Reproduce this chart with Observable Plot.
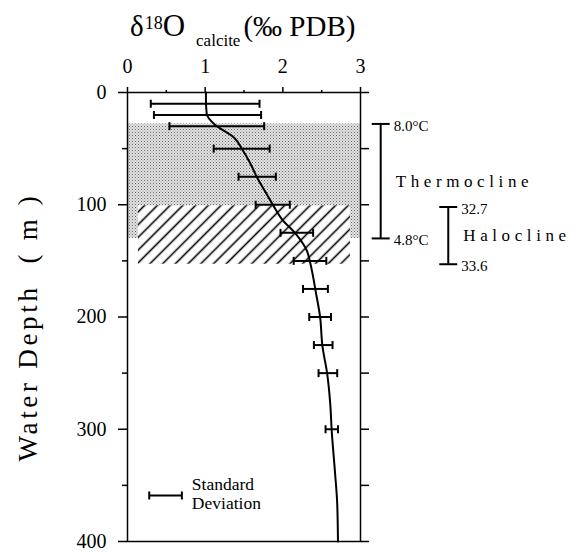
<!DOCTYPE html>
<html>
<head>
<meta charset="utf-8">
<script src="https://cdn.jsdelivr.net/npm/d3@7"></script>
<script src="https://cdn.jsdelivr.net/npm/@observablehq/plot@0.6"></script>
<style>
  html, body { margin: 0; padding: 0; background: #fff; }
  #chart svg { display: block; }
</style>
</head>
<body>
<div id="chart"></div>
<script>
// Mean δ18O of calcite (‰ PDB) with ±1 standard deviation, by water depth (m)
const sampleDepth = [10, 20, 30, 50, 75, 100, 125, 150, 175, 200, 225, 250, 300];
const meanD18O    = [1.00, 1.03, 1.15, 1.47, 1.67, 1.87, 2.18, 2.35, 2.42, 2.48, 2.52, 2.58, 2.63];
const stdDev      = [0.70, 0.69, 0.61, 0.36, 0.24, 0.22, 0.21, 0.21, 0.16, 0.14, 0.12, 0.12, 0.08];

// Smoothed equilibrium profile
const profileDepth = [0, 7, 19, 29, 40, 51, 63, 76, 89, 101, 113, 127, 141, 151, 168, 176, 200, 226, 250, 277, 302, 337, 366, 400];
const profileD18O  = [1.01, 1.01, 1.02, 1.13, 1.37, 1.48, 1.58, 1.67, 1.78, 1.88, 1.99, 2.18, 2.31, 2.35, 2.40, 2.42, 2.48, 2.51, 2.57, 2.61, 2.63, 2.67, 2.70, 2.71];

// Water-column layers
const zoneNames   = ["Thermocline", "Halocline"];
const zoneTop     = [28, 102];
const zoneBottom  = [130, 153];
const zoneTopLbl  = ["8.0°C", "32.7"];
const zoneBotLbl  = ["4.8°C", "33.6"];

// Axis ticks
const xTicks = [0, 1, 2, 3];
const xMinorTicks = [0.5, 1.5, 2.5];
const yTicks = [0, 100, 200, 300, 400];
const yMinorTicks = [50, 150, 250, 350];

// Legend sample bar
const legendText = "Standard\nDeviation";
const legendDepth = 359;
const legendSpan = [0.28, 0.70];

const bars = sampleDepth.map((depth, i) => ({depth, mean: meanD18O[i], sd: stdDev[i]}));
const profile = profileDepth.map((depth, i) => ({depth, value: profileD18O[i]}));
const zones = zoneNames.map((name, i) => ({
  name, top: zoneTop[i], bottom: zoneBottom[i], topLabel: zoneTopLbl[i], bottomLabel: zoneBotLbl[i]
}));

// Horizontal positions of the zone brackets, right of the frame (in δ18O units)
const zoneColumn = {Thermocline: 3.26, Halocline: 4.13};

// Short strokes used as bar caps
const vCap = {draw(ctx, size) { const r = Math.sqrt(size / Math.PI); ctx.moveTo(0, -r); ctx.lineTo(0, r); }};
const hCap = {draw(ctx, size) { const r = Math.sqrt(size / Math.PI); ctx.moveTo(-r, 0); ctx.lineTo(r, 0); }};

const barCaps = bars.flatMap(d => [{x: d.mean - d.sd, depth: d.depth}, {x: d.mean + d.sd, depth: d.depth}]);
const zoneCaps = zones.flatMap(d => [{x: zoneColumn[d.name], depth: d.top}, {x: zoneColumn[d.name], depth: d.bottom}]);
const legendRows = [{depth: legendDepth, x1: legendSpan[0], x2: legendSpan[1], text: legendText}];
const legendCaps = legendSpan.map(x => ({x, depth: legendDepth}));

const serif = "'Liberation Serif', 'Times New Roman', serif";

const plot = Plot.plot({
  width: 581,
  height: 554,
  marginTop: 92,
  marginLeft: 127,
  marginRight: 221,
  marginBottom: 13,
  x: {domain: [0, 3]},
  y: {domain: [0, 400], reverse: true},
  style: {fontFamily: serif, background: "white", color: "black", overflow: "visible"},
  marks: [
    // Thermocline (stippled) and halocline (hatched) layers
    Plot.rect(zones.slice(0, 1), {x1: 0, x2: 3, y1: "top", y2: "bottom", fill: "url(#stipple)"}),
    Plot.rect(zones.slice(1), {x1: 0.14, x2: 2.87, y1: d => d.top - 1, y2: "bottom", fill: "url(#hatch)"}),

    Plot.frame({stroke: "black", strokeWidth: 1.5}),

    Plot.axisX({anchor: "top", ticks: xTicks, tickSize: 6, tickPadding: 14, fontSize: 20, strokeWidth: 1.5, label: null, tickFormat: d => d}),
    Plot.axisX({anchor: "top", ticks: xMinorTicks, tickSize: 3, strokeWidth: 1.5, label: null, tickFormat: () => ""}),
    Plot.axisY({anchor: "left", ticks: yTicks, tickSize: 9, tickPadding: 12, fontSize: 20, strokeWidth: 1.5, label: null, tickFormat: d => d}),
    Plot.axisY({anchor: "left", ticks: yMinorTicks, tickSize: 5, strokeWidth: 1.5, label: null, tickFormat: () => ""}),
    Plot.axisY({anchor: "right", ticks: d3.range(0, 401, 50), tickSize: 8, strokeWidth: 1.5, label: null, tickFormat: () => ""}),

    // Profile curve
    Plot.line(profile, {x: "value", y: "depth", curve: "monotone-y", stroke: "black", strokeWidth: 2}),

    // Error bars
    Plot.link(bars, {x1: d => d.mean - d.sd, x2: d => d.mean + d.sd, y1: "depth", y2: "depth", stroke: "black", strokeWidth: 2}),
    Plot.dot(barCaps, {x: "x", y: "depth", symbol: vCap, r: 4, fill: "none", stroke: "black", strokeWidth: 2}),

    // Zone brackets and labels
    Plot.ruleX(zones, {x: d => zoneColumn[d.name], y1: "top", y2: "bottom", stroke: "black", strokeWidth: 2}),
    Plot.dot(zoneCaps, {x: "x", y: "depth", symbol: hCap, r: 9, fill: "none", stroke: "black", strokeWidth: 2}),
    Plot.text(zones, {x: d => zoneColumn[d.name], y: "top", text: "topLabel", dx: 13, dy: 2, textAnchor: "start", fontSize: 15}),
    Plot.text(zones, {x: d => zoneColumn[d.name], y: "bottom", text: "bottomLabel", dx: 13, dy: 2, textAnchor: "start", fontSize: 15}),
    Plot.text(zones, {x: d => zoneColumn[d.name], y: d => (d.top + d.bottom) / 2, text: "name", dx: 15, textAnchor: "start", fontSize: 17}),

    // Legend
    Plot.link(legendRows, {x1: "x1", x2: "x2", y1: "depth", y2: "depth", stroke: "black", strokeWidth: 2}),
    Plot.dot(legendCaps, {x: "x", y: "depth", symbol: vCap, r: 4, fill: "none", stroke: "black", strokeWidth: 2}),
    Plot.text(legendRows, {x: "x2", y: "depth", text: "text", dx: 10, dy: -2, textAnchor: "start", fontSize: 17.5, lineHeight: 1.1})
  ]
});

const svg = d3.select(plot);
const defs = svg.insert("defs", ":first-child");

const stipple = defs.append("pattern")
  .attr("id", "stipple").attr("patternUnits", "userSpaceOnUse")
  .attr("width", 3).attr("height", 3);
stipple.append("rect").attr("width", 3).attr("height", 3).attr("fill", "#e2e2e2");
stipple.append("rect").attr("x", 0).attr("y", 0).attr("width", 1).attr("height", 1).attr("fill", "#6a6a6a");
stipple.append("rect").attr("x", 1.5).attr("y", 1.5).attr("width", 1).attr("height", 1).attr("fill", "#909090");

const hatch = defs.append("pattern")
  .attr("id", "hatch").attr("patternUnits", "userSpaceOnUse")
  .attr("width", 9).attr("height", 9)
  .attr("patternTransform", "rotate(45)");
hatch.append("rect").attr("width", 9).attr("height", 9).attr("fill", "white");
hatch.append("line").attr("x1", 4.5).attr("x2", 4.5).attr("y1", 0).attr("y2", 9)
  .attr("stroke", "black").attr("stroke-width", 1.6);

// Letter-spaced layer names
svg.selectAll("text").filter(function() { return zoneNames.includes(this.textContent); })
  .attr("letter-spacing", 4.6);

// Top title: δ18O calcite (‰ PDB)
const xScale = plot.scale("x");
const title = svg.append("text")
  .attr("x", xScale.apply(0) + 3).attr("y", 36)
  .attr("text-anchor", "start")
  .attr("font-family", serif).attr("font-size", 29).attr("fill", "black");
title.append("tspan").text("δ");
title.append("tspan").attr("font-size", 18).attr("dy", -7).attr("dx", 1).text("18");
title.append("tspan").attr("dy", 7).attr("font-size", 31).text("O");
title.append("tspan").attr("font-size", 17).attr("dy", 10).attr("dx", 11).text("calcite");
title.append("tspan").attr("dy", -10).attr("dx", 3).text("(‰ PDB)");

// Vertical axis title
svg.append("text")
  .attr("transform", "translate(37,327) rotate(-90)")
  .attr("text-anchor", "middle")
  .attr("font-family", serif).attr("font-size", 27).attr("letter-spacing", 3.7)
  .attr("fill", "black")
  .text("Water Depth  ( m )");

document.getElementById("chart").appendChild(plot);
</script>
</body>
</html>
